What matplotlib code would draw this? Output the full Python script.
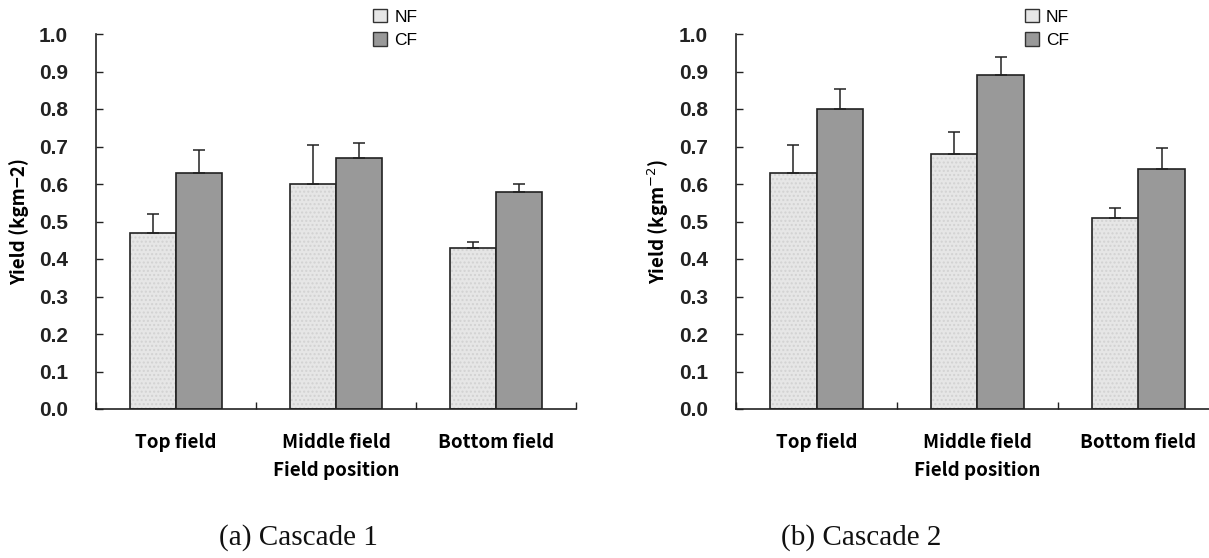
import matplotlib
matplotlib.use('Agg')
import matplotlib.pyplot as plt
import numpy as np

# Data
categories = ['Top field', 'Middle field', 'Bottom field']
nf_c1 = [0.47, 0.60, 0.43]
nf_c1_err = [0.05, 0.105, 0.015]
cf_c1 = [0.63, 0.67, 0.58]
cf_c1_err = [0.062, 0.04, 0.02]

nf_c2 = [0.63, 0.68, 0.51]
nf_c2_err = [0.075, 0.06, 0.025]
cf_c2 = [0.80, 0.89, 0.64]
cf_c2_err = [0.054, 0.05, 0.057]

yticks = [0.0, 0.1, 0.2, 0.3, 0.4, 0.5, 0.6, 0.7, 0.8, 0.9, 1.0]

NF_COLOR = '#e6e6e6'
CF_COLOR = '#999999'
tick_font = ['Liberation Sans', 'DejaVu Sans']
gothic = ['Noto Sans CJK JP', 'DejaVu Sans']

fig = plt.figure(figsize=(12.09, 5.58), dpi=100)


def draw_panel(ax, nf, nf_err, cf, cf_err, ylab):
    x = np.arange(len(categories))
    w = 0.29
    # NF bars with a light speckled look
    ax.bar(x - w / 2, nf, w, color=NF_COLOR, edgecolor='#d2d2d2', hatch='....', linewidth=0)
    ax.bar(x - w / 2, nf, w, facecolor='none', edgecolor='#222222', linewidth=1.2,
           yerr=[[0] * len(nf), nf_err], error_kw=dict(ecolor='#222222', elinewidth=1.1, capsize=4, capthick=1.1))
    ax.bar(x + w / 2, cf, w, color=CF_COLOR, edgecolor='#222222', linewidth=1.2,
           yerr=[[0] * len(cf), cf_err], error_kw=dict(ecolor='#222222', elinewidth=1.1, capsize=4, capthick=1.1))

    ax.set_xlim(-0.5, 2.5)
    ax.set_ylim(0, 1.0)
    ax.set_yticks(yticks)
    ax.set_yticklabels(['%.1f' % t for t in yticks], family=tick_font, fontweight='bold', fontsize=15)
    ax.tick_params(axis='y', direction='in', length=5, width=1, pad=20, colors='#222222')

    # boundaries as major ticks, labels on minor
    ax.set_xticks([-0.5, 0.5, 1.5, 2.5])
    ax.set_xticklabels([])
    ax.tick_params(axis='x', which='major', direction='in', length=5, width=1, colors='#222222')
    ax.set_xticks(x, minor=True)
    ax.set_xticklabels(categories, minor=True, family=gothic, fontweight='bold', fontsize=13.5)
    ax.tick_params(axis='x', which='minor', length=0, pad=17)
    ax.set_xlabel('Field position', family=gothic, fontweight='bold', fontsize=13.5, labelpad=7)
    ax.set_ylabel(ylab, family=gothic, fontweight='bold', fontsize=13.5)

    for s in ['top', 'right']:
        ax.spines[s].set_visible(False)
    for s in ['left', 'bottom']:
        ax.spines[s].set_linewidth(1.2)
        ax.spines[s].set_color('#222222')


ax1 = fig.add_axes([96 / 1209, 1 - 409 / 558, 480 / 1209, 375 / 558])
draw_panel(ax1, nf_c1, nf_c1_err, cf_c1, cf_c1_err, 'Yield (kgm−2)')
ax1.yaxis.set_label_coords(-0.14, 0.5)

ax2 = fig.add_axes([736 / 1209, 1 - 409 / 558, 483 / 1209, 375 / 558])
draw_panel(ax2, nf_c2, nf_c2_err, cf_c2, cf_c2_err, 'Yield (kgm$^{-2}$)')
ax2.yaxis.set_label_coords(-0.135, 0.5)

# legends
for ax, lx in [(ax1, 0.56), (ax2, 0.58)]:
    h1 = plt.Rectangle((0, 0), 1, 1, facecolor=NF_COLOR, edgecolor='#333333', linewidth=1)
    h2 = plt.Rectangle((0, 0), 1, 1, facecolor=CF_COLOR, edgecolor='#333333', linewidth=1)
    ax.legend([h1, h2], ['NF', 'CF'], loc='upper left', bbox_to_anchor=(lx, 1.09),
              frameon=False, handlelength=0.8, handleheight=0.8, handletextpad=0.4,
              labelspacing=0.45, borderpad=0, prop={'family': ['Liberation Sans'], 'size': 12.5})

fig.text(298 / 1209, 1 - 545 / 558, '(a) Cascade 1', family=['Liberation Serif'], fontsize=21,
         ha='center', va='baseline', color='#111111')
fig.text(861 / 1209, 1 - 545 / 558, '(b) Cascade 2', family=['Liberation Serif'], fontsize=21,
         ha='center', va='baseline', color='#111111')

fig.savefig('out.png', dpi=100)
